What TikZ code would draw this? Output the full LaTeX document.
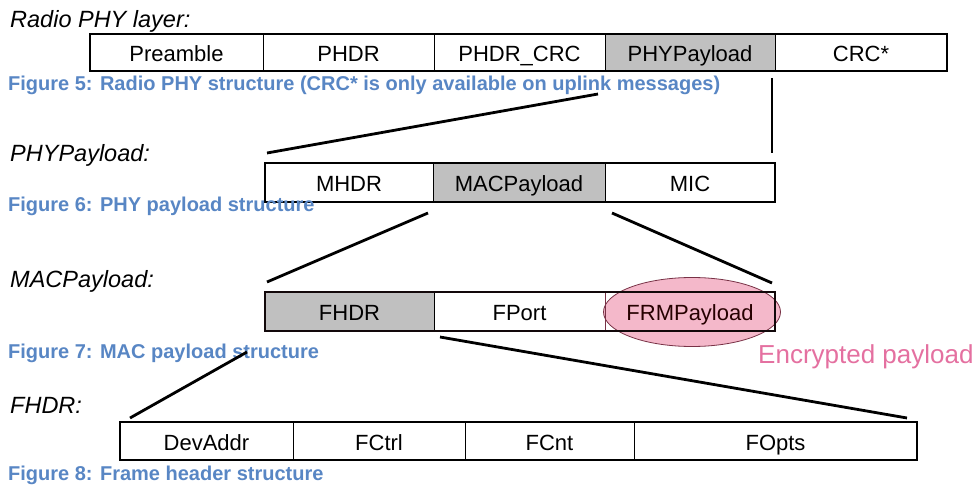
\documentclass[tikz,border=0pt]{standalone}
\usepackage{fontspec}
\setmainfont{Liberation Sans}
\usetikzlibrary{shapes.geometric}
\definecolor{capblue}{RGB}{88,134,196}
\definecolor{cellgray}{RGB}{192,192,192}
\definecolor{pinkfill}{RGB}{244,184,202}
\definecolor{pinkline}{RGB}{120,50,70}
\definecolor{pinktext}{RGB}{228,112,160}
\tikzset{
  cell/.style={draw=black, line width=0.9pt, inner sep=0pt, outer sep=0pt, text height=20pt, text depth=2pt, font=\fontsize{22}{24}\selectfont},
  shaded/.style={fill=cellgray},
  frame/.style={line width=2.8pt},
  conn/.style={line width=2.8pt},
  rowlabel/.style={anchor=base west, inner sep=0pt, font=\fontsize{23.5}{26}\selectfont\itshape},
  caption/.style={anchor=base west, inner sep=0pt, text=capblue, font=\fontsize{20}{22}\selectfont\bfseries},
}
\begin{document}
\begin{tikzpicture}[x=1pt,y=-1pt]
\useasboundingbox (0,0) rectangle (980,486);
% Row 1
\node[rowlabel] (l1) at (10,28) {Radio PHY layer:};
\node[cell, minimum width=173pt, minimum height=37pt] (pre) at (176.5,52.5) {Preamble};
\node[cell, minimum width=171pt, minimum height=37pt] (phdr) at (348.5,52.5) {PHDR};
\node[cell, minimum width=171pt, minimum height=37pt] (phdrcrc) at (519.5,52.5) {PHDR\_CRC};
\node[cell, shaded, minimum width=170pt, minimum height=37pt] (phypl) at (690,52.5) {PHYPayload};
\node[cell, minimum width=172pt, minimum height=37pt] (crc) at (861,52.5) {CRC*};
\draw[frame] (pre.north west) rectangle (crc.south east);
\node[caption] (c5) at (8,91) {Figure 5: Radio PHY structure (CRC* is only available on uplink messages)};
% Row 2
\node[rowlabel] (l2) at (10,162) {PHYPayload:};
\node[cell, minimum width=168pt, minimum height=39pt] (mhdr) at (349,182.5) {MHDR};
\node[cell, shaded, minimum width=172pt, minimum height=39pt] (macpl) at (519,182.5) {MACPayload};
\node[cell, minimum width=170pt, minimum height=39pt] (mic) at (690,182.5) {MIC};
\draw[frame] (mhdr.north west) rectangle (mic.south east);
\node[caption] (c6) at (8,212) {Figure 6: PHY payload structure};
% Row 3
\node[rowlabel] (l3) at (10,288) {MACPayload:};
\node[cell, shaded, minimum width=169pt, minimum height=39pt] (fhdr) at (349.5,311.5) {FHDR};
\node[cell, minimum width=171pt, minimum height=39pt] (fport) at (519.5,311.5) {FPort};
\node[ellipse, fill=pinkfill, draw=pinkline, line width=0.8pt, minimum width=177pt, minimum height=69pt, inner sep=0pt] (enc) at (692,312) {};
\node[cell, minimum width=170pt, minimum height=39pt, draw=pinkline, text=black!85!red] (frm) at (690,311.5) {FRMPayload};
\draw[frame, draw=black!85!pinkline] (fhdr.north west) rectangle (frm.south east);
\node[anchor=west, inner sep=0pt, text=pinktext, font=\fontsize{26}{28}\selectfont] (enclbl) at (758,357) {Encrypted payload};
\node[caption] (c7) at (8,358) {Figure 7: MAC payload structure};
% Row 4
\node[rowlabel] (l4) at (10,413) {FHDR:};
\node[cell, minimum width=173pt, minimum height=38pt] (devaddr) at (206.5,441) {DevAddr};
\node[cell, minimum width=172pt, minimum height=38pt] (fctrl) at (379,441) {FCtrl};
\node[cell, minimum width=169pt, minimum height=38pt] (fcnt) at (549.5,441) {FCnt};
\node[cell, minimum width=283pt, minimum height=38pt] (fopts) at (775.5,441) {FOpts};
\draw[frame] (devaddr.north west) rectangle (fopts.south east);
\node[caption] (c8) at (8,480) {Figure 8: Frame header structure};
% connectors
\coordinate (a1) at (598,94);  \coordinate (b1) at (267,153);
\coordinate (a2) at (772,78);  \coordinate (b2) at (772,153);
\coordinate (a3) at (428,213); \coordinate (b3) at (267,282);
\coordinate (a4) at (612,213); \coordinate (b4) at (772,283);
\coordinate (a5) at (247,352); \coordinate (b5) at (130,418);
\coordinate (a6) at (440,337); \coordinate (b6) at (907,418);
\draw[conn] (a1) -- (b1);
\draw[conn] (a2) -- (b2);
\draw[conn] (a3) -- (b3);
\draw[conn] (a4) -- (b4);
\draw[conn] (a5) -- (b5);
\draw[conn] (a6) -- (b6);
\end{tikzpicture}
\end{document}
